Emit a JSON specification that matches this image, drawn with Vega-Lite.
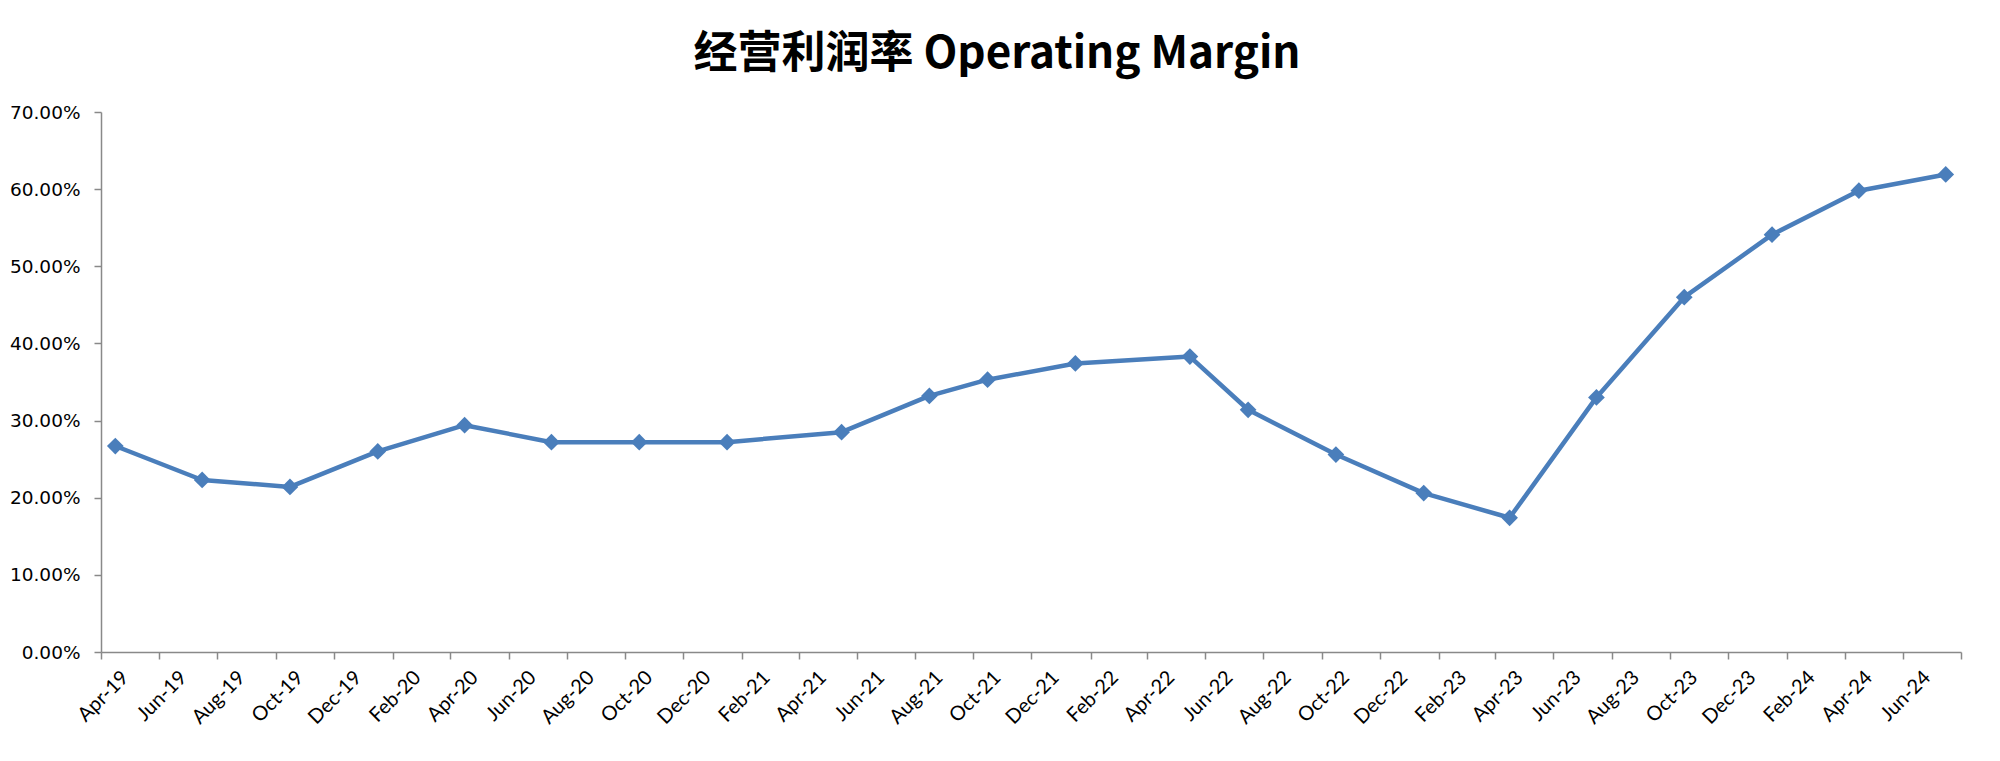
{
  "$schema": "https://vega.github.io/schema/vega-lite/v6.json",
  "width": 1860,
  "height": 540,
  "autosize": "none",
  "padding": {"left": 101, "top": 112, "right": 39, "bottom": 109},
  "background": "white",
  "title": {
    "text": "经营利润率 Operating Margin",
    "font": "Noto Sans CJK SC",
    "fontSize": 44,
    "fontWeight": "bold",
    "color": "#000000",
    "anchor": "middle",
    "offset": 26,
    "dx": -34
  },
  "data": {
    "values": [
      {"date": "2019/04/16", "margin": 0.267},
      {"date": "2019/07/16", "margin": 0.223},
      {"date": "2019/10/16", "margin": 0.214},
      {"date": "2020/01/16", "margin": 0.260},
      {"date": "2020/04/16", "margin": 0.294},
      {"date": "2020/07/16", "margin": 0.272},
      {"date": "2020/10/16", "margin": 0.272},
      {"date": "2021/01/16", "margin": 0.272},
      {"date": "2021/05/16", "margin": 0.285},
      {"date": "2021/08/16", "margin": 0.332},
      {"date": "2021/10/16", "margin": 0.353},
      {"date": "2022/01/16", "margin": 0.374},
      {"date": "2022/05/16", "margin": 0.383},
      {"date": "2022/07/16", "margin": 0.314},
      {"date": "2022/10/16", "margin": 0.256},
      {"date": "2023/01/16", "margin": 0.206},
      {"date": "2023/04/16", "margin": 0.174},
      {"date": "2023/07/16", "margin": 0.330},
      {"date": "2023/10/16", "margin": 0.460},
      {"date": "2024/01/16", "margin": 0.541},
      {"date": "2024/04/16", "margin": 0.598},
      {"date": "2024/07/16", "margin": 0.619}
    ]
  },
  "config": {
    "view": {"stroke": null},
    "axis": {
      "grid": false,
      "domainColor": "#898989",
      "domainWidth": 1.5,
      "tickColor": "#898989",
      "tickWidth": 1.5,
      "tickSize": 7,
      "labelColor": "#000000",
      "title": null
    }
  },
  "encoding": {
    "x": {
      "field": "date",
      "type": "temporal",
      "scale": {
        "domain": [
          {"year": 2019, "month": 4, "date": 1},
          {"year": 2024, "month": 8, "date": 1}
        ]
      },
      "axis": {
        "values": [
          {"year": 2019, "month": 4, "date": 1}, {"year": 2019, "month": 6, "date": 1},
          {"year": 2019, "month": 8, "date": 1}, {"year": 2019, "month": 10, "date": 1},
          {"year": 2019, "month": 12, "date": 1}, {"year": 2020, "month": 2, "date": 1},
          {"year": 2020, "month": 4, "date": 1}, {"year": 2020, "month": 6, "date": 1},
          {"year": 2020, "month": 8, "date": 1}, {"year": 2020, "month": 10, "date": 1},
          {"year": 2020, "month": 12, "date": 1}, {"year": 2021, "month": 2, "date": 1},
          {"year": 2021, "month": 4, "date": 1}, {"year": 2021, "month": 6, "date": 1},
          {"year": 2021, "month": 8, "date": 1}, {"year": 2021, "month": 10, "date": 1},
          {"year": 2021, "month": 12, "date": 1}, {"year": 2022, "month": 2, "date": 1},
          {"year": 2022, "month": 4, "date": 1}, {"year": 2022, "month": 6, "date": 1},
          {"year": 2022, "month": 8, "date": 1}, {"year": 2022, "month": 10, "date": 1},
          {"year": 2022, "month": 12, "date": 1}, {"year": 2023, "month": 2, "date": 1},
          {"year": 2023, "month": 4, "date": 1}, {"year": 2023, "month": 6, "date": 1},
          {"year": 2023, "month": 8, "date": 1}, {"year": 2023, "month": 10, "date": 1},
          {"year": 2023, "month": 12, "date": 1}, {"year": 2024, "month": 2, "date": 1},
          {"year": 2024, "month": 4, "date": 1}, {"year": 2024, "month": 6, "date": 1},
          {"year": 2024, "month": 8, "date": 1}
        ],
        "labelExpr": "datum.value >= datetime(2024, 7, 1) ? '' : timeFormat(datum.value, '%b-%y')",
        "labelAngle": -45,
        "labelOffset": 17,
        "labelPadding": 8,
        "labelFont": "Lato",
        "labelFontSize": 20,
        "labelOverlap": false,
        "labelBound": false,
        "labelFlush": false
      }
    },
    "y": {
      "field": "margin",
      "type": "quantitative",
      "scale": {"domain": [0, 0.7], "nice": false, "zero": true},
      "axis": {
        "values": [0, 0.1, 0.2, 0.3, 0.4, 0.5, 0.6, 0.7],
        "format": ".2%",
        "labelFont": "DejaVu Sans",
        "labelFontSize": 18.5,
        "labelPadding": 14
      }
    }
  },
  "layer": [
    {
      "mark": {"type": "line", "color": "#4A7EBB", "strokeWidth": 4.5, "strokeJoin": "round"}
    },
    {
      "mark": {"type": "point", "shape": "diamond", "filled": true, "color": "#4A7EBB", "opacity": 1, "size": 280}
    }
  ]
}
